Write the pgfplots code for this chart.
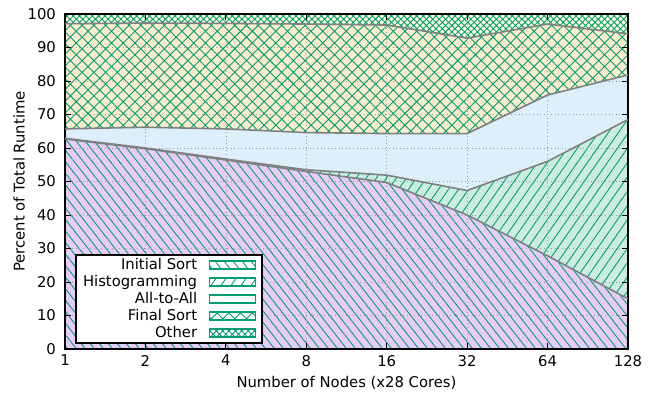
\documentclass[border=0pt]{standalone}
\usepackage{fontspec}
\setmainfont{DejaVu Sans}
\usepackage{pgfplots}
\pgfplotsset{compat=1.18}
\usepackage{pgfplotstable}
\usepgfplotslibrary{fillbetween}
\usetikzlibrary{patterns.meta}

\definecolor{pc}{RGB}{0,158,115}
\definecolor{cIS}{RGB}{233,204,245}
\definecolor{cH}{RGB}{204,236,226}
\definecolor{cA}{RGB}{221,239,250}
\definecolor{cF}{RGB}{250,236,204}
\definecolor{cO}{RGB}{252,250,217}
\definecolor{bnd}{RGB}{128,128,128}

% cumulative boundaries (percent)
\pgfplotstableread{
x is   h    a    f    top bot
0 62.7 62.9 65.7 97.1 100 0
1 59.8 60.0 66.2 97.3 100 0
2 56.4 56.7 65.7 97.2 100 0
3 53.0 53.5 64.6 97.0 100 0
4 49.7 51.9 64.3 96.7 100 0
5 40.0 47.3 64.3 92.8 100 0
6 27.8 56.0 75.8 97.0 100 0
7 15.0 68.5 81.8 94.1 100 0
}\data

\tikzset{
  patIS/.style={pattern={Lines[angle=-52,distance=7.1pt,line width=0.9pt]}, pattern color=pc},
  patH/.style={pattern={Lines[angle=55,distance=8.2pt,line width=0.9pt]}, pattern color=pc},
  patF/.style={pattern={Hatch[angle=45,distance=8.3pt,line width=0.9pt]}, pattern color=pc},
  patO/.style={pattern={Hatch[angle=45,distance=4.5pt,line width=0.9pt]}, pattern color=pc},
  legbox/.style={draw=pc, line width=1.8pt},
}

\begin{document}
\fontsize{14.8}{17}\selectfont
\begin{tikzpicture}
\begin{axis}[
  set layers,
  scale only axis, width=563pt, height=335pt,
  xmin=0, xmax=7, ymin=0, ymax=100,
  xtick={0,...,7}, xticklabels={1,2,4,8,16,32,64,128},
  ytick={0,10,...,100},
  tick align=inside, major tick length=6pt,
  tick style={black, line width=0.8pt},
  axis line style={black, line width=1.4pt},
  grid=major,
  major grid style={gray!80, line width=0.6pt, dash pattern=on 0.6pt off 3pt},
  /pgf/number format/assume math mode=true,
  yticklabel style={xshift=-4pt},
  xticklabel style={yshift=-1pt},
  xlabel={Number of Nodes (x28 Cores)},
  ylabel={Percent of Total Runtime},
  xlabel style={at={(axis description cs:0.5,-0.1015)}, anchor=center},
  ylabel style={at={(axis description cs:-0.0817,0.5)}, anchor=center},
  legend cell align=right, legend plot pos=right,
  legend style={at={(0.0178,0.0149)}, anchor=south west, draw=black, line width=2pt,
    fill=white, inner xsep=5.5pt, inner ysep=1.5pt, row sep=0pt, column sep=10pt,
    nodes={inner sep=1.5pt, text height=11pt, text depth=3pt},
    font=\fontsize{14.8}{17}\selectfont},
]
\addplot[name path=bot, draw=none, forget plot] table[x=x,y=bot]{\data};
\addplot[name path=top, draw=none, forget plot] table[x=x,y=top]{\data};
\addplot[name path=is, bnd, line width=1.6pt, forget plot] table[x=x,y=is]{\data};
\addplot[name path=h, bnd, line width=1.6pt, forget plot] table[x=x,y=h]{\data};
\addplot[name path=a, bnd, line width=1.6pt, forget plot] table[x=x,y=a]{\data};
\addplot[name path=f, bnd, line width=1.6pt, forget plot] table[x=x,y=f]{\data};

\addplot[fill=cIS, draw=none, forget plot] fill between[of=bot and is, on layer=axis background];
\addplot[patIS, draw=none, forget plot] fill between[of=bot and is, on layer=axis background];
\addplot[fill=cH, draw=none, forget plot] fill between[of=is and h, on layer=axis background];
\addplot[patH, draw=none, forget plot] fill between[of=is and h, on layer=axis background];
\addplot[fill=cA, draw=none, forget plot] fill between[of=h and a, on layer=axis background];
\addplot[fill=cF, draw=none, forget plot] fill between[of=a and f, on layer=axis background];
\addplot[patF, draw=none, forget plot] fill between[of=a and f, on layer=axis background];
\addplot[fill=cO, draw=none, forget plot] fill between[of=f and top, on layer=axis background];
\addplot[patO, draw=none, forget plot] fill between[of=f and top, on layer=axis background];

\addlegendimage{legend image code/.code={\draw[patIS, legbox] (0pt,-4pt) rectangle (46pt,4pt);}}
\addlegendentry{Initial Sort}
\addlegendimage{legend image code/.code={\draw[patH, legbox] (0pt,-4pt) rectangle (46pt,4pt);}}
\addlegendentry{Histogramming}
\addlegendimage{legend image code/.code={\draw[legbox] (0pt,-4pt) rectangle (46pt,4pt);}}
\addlegendentry{All-to-All}
\addlegendimage{legend image code/.code={\draw[patF, legbox] (0pt,-4pt) rectangle (46pt,4pt);}}
\addlegendentry{Final Sort}
\addlegendimage{legend image code/.code={\draw[patO, legbox] (0pt,-4pt) rectangle (46pt,4pt);}}
\addlegendentry{Other}
\end{axis}
\pgfresetboundingbox
\path[use as bounding box] (current axis.south west) ++(-65pt,-52pt) rectangle ++(656pt,401pt);
\end{tikzpicture}
\end{document}
